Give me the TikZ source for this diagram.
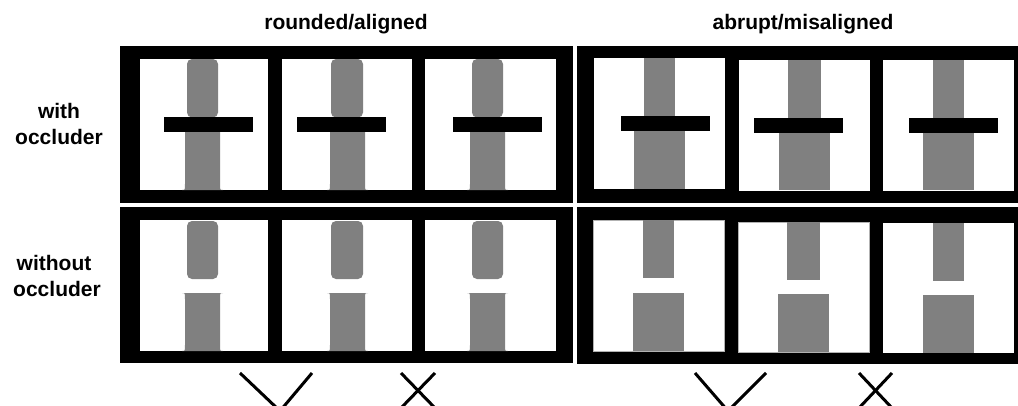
\documentclass[tikz,border=0pt]{standalone}
\usepackage{fontspec}
\setmainfont{Liberation Sans}
\definecolor{gry}{RGB}{128,128,128}
\tikzset{
  blk/.style={fill=black},
  pnl/.style={fill=white},
  pnlb/.style={fill=white, draw=black!30, line width=0.8pt},
  gr/.style={fill=gry},
  occ/.style={fill=black},
  lbl/.style={font=\bfseries\fontsize{21}{25}\selectfont, inner sep=0pt, anchor=base},
  tickline/.style={line width=3pt, draw=black}
}
% rounded top piece: x0 x1 ytop ybot
\newcommand\rtop[4]{\fill[gr, rounded corners=5pt] (#1,#3) rectangle (#2,#4);}
% flared bottom piece: x0 x1 ytop ybot
\newcommand\flared[4]{\fill[gr] (#1-3,#3) -- (#2+3,#3) .. controls (#2,#3) .. (#2,#3+6) -- (#2,#4-6) .. controls (#2,#4) .. (#2+3,#4) -- (#1-3,#4) .. controls (#1,#4) .. (#1,#4-6) -- (#1,#3+6) .. controls (#1,#3) .. (#1-3,#3) -- cycle;}
\begin{document}
\begin{tikzpicture}[x=1pt,y=-1pt]
\useasboundingbox (0,0) rectangle (1018,405);
\clip (0,0) rectangle (1018,405);
\fill[white] (0,0) rectangle (1018,405);

% titles
\node[lbl] (t1) at (346,29) {rounded/aligned};
\node[lbl] (t2) at (803,29) {abrupt/misaligned};
\node[lbl] (r1a) at (59,118) {with};
\node[lbl] (r1b) at (59,144) {occluder};
\node[lbl] (r2a) at (54,270) {without};
\node[lbl] (r2b) at (57,296) {occluder};

% black blocks
\fill[blk] (120,46) rectangle (573,203);
\fill[blk] (120,207) rectangle (573,363);
\fill[blk] (577,46) rectangle (1030,203);
\fill[blk] (577,207) rectangle (1030,364);

% ---------- left, row 1 ----------
\fill[pnl] (140,59) rectangle (268,190);
\fill[pnl] (282,59) rectangle (412,190);
\fill[pnl] (425,59) rectangle (556,190);
\rtop{187}{218}{59}{117.5}
\flared{185}{220}{124}{190}
\fill[occ] (164,117) rectangle (253,132);
\rtop{331}{363}{59}{117.5}
\flared{330}{365}{124}{190}
\fill[occ] (297,117) rectangle (386,132);
\rtop{472}{503}{59}{117.5}
\flared{470}{505}{124}{190}
\fill[occ] (453,117) rectangle (542,132);

% ---------- left, row 2 ----------
\fill[pnl] (140,220) rectangle (268,351);
\fill[pnl] (282,220) rectangle (412,351);
\fill[pnl] (425,220) rectangle (556,351);
\rtop{187}{218}{221}{279}
\flared{185}{220}{293}{351}
\rtop{331}{363}{221}{279}
\flared{330}{365}{293}{351}
\rtop{472}{503}{221}{279}
\flared{470}{505}{293}{351}

% ---------- right, row 1 ----------
\fill[pnl] (594,58) rectangle (725,189);
\fill[pnl] (739,60) rectangle (870,191);
\fill[pnl] (883,60) rectangle (1014,191);
\fill[gr] (644,58) rectangle (675,116);
\fill[gr] (634,131) rectangle (685,189);
\fill[occ] (621,116) rectangle (710,131);
\fill[gr] (788,60) rectangle (821,118);
\fill[gr] (779,133) rectangle (830,190);
\fill[occ] (754,118) rectangle (843,133);
\fill[gr] (933,60) rectangle (964,118);
\fill[gr] (923,133) rectangle (974,190);
\fill[occ] (909,118) rectangle (998,133);

% ---------- right, row 2 ----------
\filldraw[pnlb] (593,220) rectangle (724,351);
\filldraw[pnlb] (738,222) rectangle (869,352);
\fill[pnl] (883,223) rectangle (1014,353);
\fill[gr] (643,220) rectangle (674,278);
\fill[gr] (633,293) rectangle (684,351);
\fill[gr] (787,222) rectangle (820,280);
\fill[gr] (778,294) rectangle (829,352);
\fill[gr] (933,223) rectangle (964,281);
\fill[gr] (923,295) rectangle (974,353);

% ---------- marks ----------
\draw[tickline] (240,373) -- (280,411) -- (312,373);
\draw[tickline] (401,373) -- (435,408);
\draw[tickline] (435,373) -- (401,408);
\draw[tickline] (695,373) -- (728,411) -- (766,373);
\draw[tickline] (859,373) -- (892,408);
\draw[tickline] (892,373) -- (859,408);
\end{tikzpicture}
\end{document}
